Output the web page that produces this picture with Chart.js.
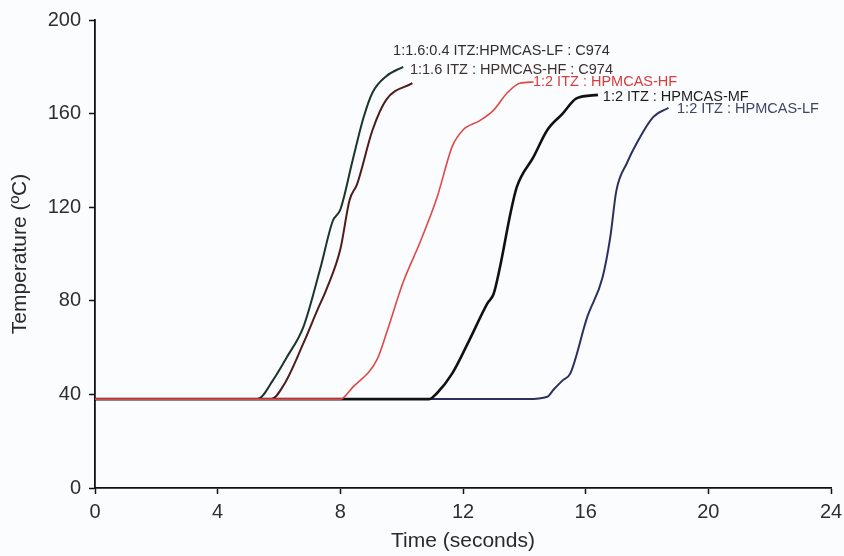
<!DOCTYPE html>
<html>
<head>
<meta charset="utf-8">
<script src="https://cdn.jsdelivr.net/npm/chart.js@4/dist/chart.umd.min.js"></script>
<style>
  html, body { margin: 0; padding: 0; background: #fbfcfe; }
  #wrap { width: 844px; height: 556px; }
</style>
</head>
<body>
<div id="wrap"><canvas id="c" width="844" height="556"></canvas></div>
<script>
// ---- Data (time in seconds, temperature in °C) ----
const seriesNames = [
  "1:1.6:0.4 ITZ:HPMCAS-LF : C974",
  "1:1.6 ITZ : HPMCAS-HF : C974",
  "1:2 ITZ : HPMCAS-HF",
  "1:2 ITZ : HPMCAS-MF",
  "1:2 ITZ : HPMCAS-LF"
];

const timeLF_C974 = [0, 5.3, 5.8, 6.26, 6.8, 7.35, 7.75, 8.0, 8.4, 8.75, 9.05, 9.5, 10.05];
const tempLF_C974 = [38, 38, 46, 56, 69, 94, 114, 119, 140, 158, 169, 176, 180];

const timeHF_C974 = [0, 5.75, 6.2, 6.8, 7.25, 7.55, 8.0, 8.3, 8.55, 9.05, 9.5, 10.35];
const tempHF_C974 = [38, 38, 45, 62, 76, 85, 102, 123, 130, 153, 166, 173];

const timeHF = [0, 8.0, 8.4, 9.2, 9.5, 10.05, 10.6, 11.15, 11.65, 12.0, 12.55, 13.0, 13.45, 13.85, 14.3];
const tempHF = [38, 38, 43, 55, 66, 88, 105, 124, 146, 153, 157, 161.5, 169, 173, 173.5];

const timeMF = [0, 10.9, 11.15, 11.65, 12.2, 12.8, 13.0, 13.2, 13.55, 13.75, 14.3, 14.75, 15.25, 15.7, 16.4];
const tempMF = [38, 38, 40.5, 49, 63, 79, 83, 94, 117.5, 128.5, 141.5, 153, 160, 166.5, 168];

const timeLF = [0, 14.1, 14.75, 14.95, 15.25, 15.5, 16.05, 16.55, 16.8, 17.0, 17.35, 17.65, 18.2, 18.7];
const tempLF = [38, 38, 39, 42, 46, 49, 73, 90, 107, 127, 139, 147, 158.5, 162.5];

// Text labels anchored in data coordinates (time, temperature)
const labelTimes = [9.72, 10.27, 14.28, 16.56, 18.98];
const labelTemps = [186.9, 178.6, 173.6, 167.2, 162];

const xTicks = [0, 4, 8, 12, 16, 20, 24];
const yTicks = [0, 40, 80, 120, 160, 200];

// ---- Build ----
function pts(t, v) { return t.map((x, i) => ({ x: x, y: v[i] })); }

const lineColors = ["#1c3526", "#4f1c1c", "#e04848", "#111111", "#2c305e"];
const lineWidths = [2, 2, 1.6, 2.6, 2];
const labelColors = ["#2e2e2e", "#3e3030", "#d83c3c", "#1e1e1e", "#3e4662"];
const dataPairs = [
  pts(timeLF_C974, tempLF_C974),
  pts(timeHF_C974, tempHF_C974),
  pts(timeHF, tempHF),
  pts(timeMF, tempMF),
  pts(timeLF, tempLF)
];
const drawOrder = [3, 4, 0, 1, 2];

const datasets = dataPairs.map((d, i) => ({
  label: seriesNames[i],
  data: d,
  borderColor: lineColors[i],
  borderWidth: lineWidths[i],
  pointRadius: 0,
  fill: false,
  cubicInterpolationMode: 'monotone',
  order: drawOrder[i]
}));

const bgPlugin = {
  id: 'bg',
  beforeDraw(chart) {
    const ctx = chart.ctx;
    ctx.save();
    ctx.fillStyle = '#fbfcfe';
    ctx.fillRect(0, 0, chart.width, chart.height);
    ctx.restore();
  }
};

const labelPlugin = {
  id: 'curveLabels',
  afterDatasetsDraw(chart) {
    const ctx = chart.ctx;
    const xs = chart.scales.x, ys = chart.scales.y;
    ctx.save();
    ctx.font = '14.5px "Liberation Sans", Arial, sans-serif';
    ctx.textAlign = 'left';
    ctx.textBaseline = 'middle';
    seriesNames.forEach((name, i) => {
      ctx.fillStyle = labelColors[i];
      ctx.fillText(name, xs.getPixelForValue(labelTimes[i]), ys.getPixelForValue(labelTemps[i]));
    });
    ctx.restore();
  }
};

new Chart(document.getElementById('c'), {
  type: 'line',
  data: { datasets: datasets },
  plugins: [bgPlugin, labelPlugin],
  options: {
    responsive: false,
    animation: false,
    layout: { padding: { left: 0, right: 0, top: 20, bottom: 0 } },
    plugins: { legend: { display: false }, tooltip: { enabled: false } },
    scales: {
      x: {
        type: 'linear',
        min: 0, max: 24,
        afterBuildTicks(scale) { scale.ticks = xTicks.map(v => ({ value: v })); },
        afterFit(scale) { scale.height = 68; scale.paddingRight = 13; scale.paddingLeft = 0; },
        ticks: {
          color: '#2e2e2e',
          padding: 6,
          font: { family: '"Liberation Sans", Arial, sans-serif', size: 20 }
        },
        grid: { display: true, drawOnChartArea: false, drawTicks: true, tickLength: 6, tickColor: '#111', tickWidth: 1.5 },
        border: { display: true, color: '#111', width: 1.8 },
        title: {
          display: true,
          text: 'Time (seconds)',
          color: '#2a2a2a',
          padding: { top: 0, bottom: 2 },
          font: { family: '"Liberation Sans", Arial, sans-serif', size: 21 }
        }
      },
      y: {
        type: 'linear',
        min: 0, max: 200,
        afterBuildTicks(scale) { scale.ticks = yTicks.map(v => ({ value: v })); },
        afterFit(scale) { scale.width = 95; },
        ticks: {
          color: '#2e2e2e',
          padding: 8,
          font: { family: '"Liberation Sans", Arial, sans-serif', size: 20 }
        },
        grid: { display: true, drawOnChartArea: false, drawTicks: true, tickLength: 6, tickColor: '#111', tickWidth: 1.5 },
        border: { display: true, color: '#111', width: 1.8 },
        title: {
          display: true,
          text: 'Temperature (ºC)',
          color: '#2a2a2a',
          padding: { top: 8, bottom: 0 },
          font: { family: '"Liberation Sans", Arial, sans-serif', size: 21 }
        }
      }
    }
  }
});
</script>
</body>
</html>
